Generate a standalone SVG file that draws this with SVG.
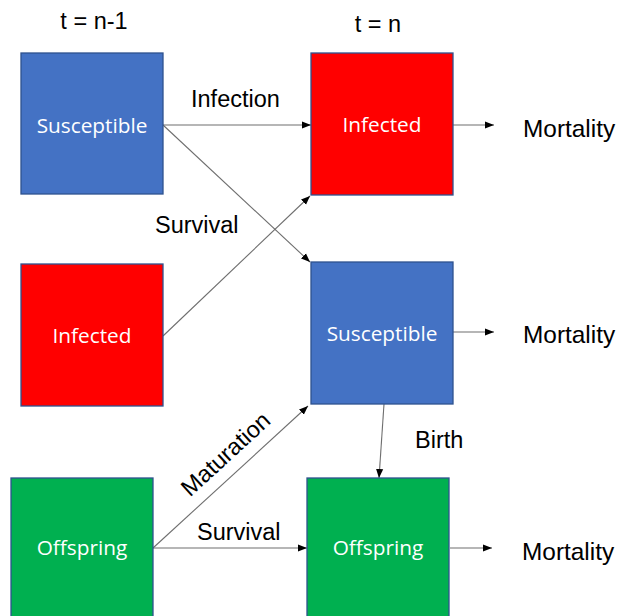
<svg xmlns="http://www.w3.org/2000/svg" width="617" height="616" viewBox="0 0 617 616">
<style>
.box{stroke:#2F528F;stroke-width:1.3}
.blue{fill:#4472C4}.red{fill:#FF0000}.green{fill:#00B050}
.in{font-family:"Open Sans","Noto Sans",sans-serif;font-size:20.8px;fill:#FFFFFF;text-anchor:middle}
.lbl{font-family:"Liberation Sans",Arial,sans-serif;font-size:23.5px;fill:#000000}
.mort{font-size:24.4px}
.c{stroke:#6E6E6E;stroke-width:1.1;fill:none;marker-end:url(#ah)}
</style>
<defs>
<marker id="ah" viewBox="0 0 10 10" refX="10" refY="5" markerWidth="9" markerHeight="9" markerUnits="userSpaceOnUse" orient="auto">
<path d="M0,1 L10,5 L0,9 z" fill="#000000"/>
</marker>
</defs>
<text class="lbl" x="94" y="29" text-anchor="middle">t = n-1</text>
<text class="lbl" x="378" y="32" text-anchor="middle">t = n</text>
<g id="connectors">
<line class="c" x1="163" y1="125" x2="311" y2="125"/>
<line class="c" x1="163" y1="125" x2="310" y2="262"/>
<line class="c" x1="163" y1="336" x2="310" y2="196"/>
<line class="c" x1="153" y1="548" x2="308" y2="406"/>
<line class="c" x1="153" y1="548" x2="307" y2="548"/>
<line class="c" x1="384" y1="404" x2="379" y2="478"/>
<line class="c" x1="453" y1="125" x2="494" y2="125"/>
<line class="c" x1="453" y1="332" x2="494" y2="332"/>
<line class="c" x1="450" y1="548" x2="492" y2="548"/>
<text class="lbl" x="191" y="107">Infection</text>
<text class="lbl" x="155" y="233">Survival</text>
<text class="lbl" x="197" y="540">Survival</text>
<text class="lbl" x="415" y="448">Birth</text>
<text class="lbl" x="0" y="0" text-anchor="middle" transform="translate(231,460) rotate(-42.5)">Maturation</text>
</g>
<g id="s_prev"><rect class="box blue" x="21" y="53" width="142" height="141"/><text class="in" x="92" y="133">Susceptible</text></g>
<g id="i_prev"><rect class="box red" x="21" y="264" width="142" height="142"/><text class="in" x="92" y="343">Infected</text></g>
<g id="o_prev"><rect class="box green" x="11" y="478" width="142" height="145"/><text class="in" x="82" y="555">Offspring</text></g>
<g id="i_now"><rect class="box red" x="311" y="53" width="142" height="142"/><text class="in" x="382" y="132">Infected</text></g>
<g id="s_now"><rect class="box blue" x="311" y="262" width="142" height="142"/><text class="in" x="382" y="341">Susceptible</text></g>
<g id="o_now"><rect class="box green" x="307" y="478" width="142" height="145"/><text class="in" x="378" y="555">Offspring</text></g>
<g id="mortality">
<text class="lbl mort" x="523" y="137">Mortality</text>
<text class="lbl mort" x="523" y="343">Mortality</text>
<text class="lbl mort" x="522" y="560">Mortality</text>
</g>
</svg>
